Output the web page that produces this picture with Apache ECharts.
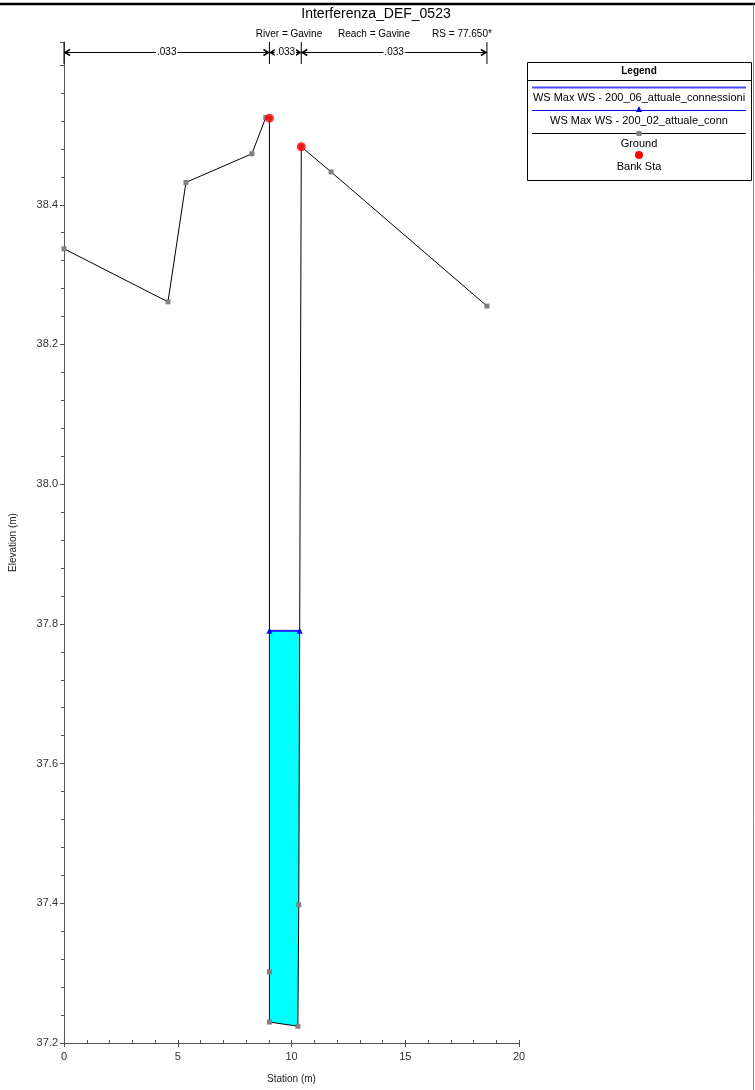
<!DOCTYPE html>
<html><head><meta charset="utf-8">
<script src="https://cdn.jsdelivr.net/npm/echarts@6/dist/echarts.min.js"></script>
<style>html,body{margin:0;padding:0;background:#fff}#c{width:755px;height:1090px}</style>
</head><body><div id="c"></div>
<script>
// ---- data ----
const groundStation = [0, 4.57, 5.36, 8.26, 8.87, 9.03, 9.03, 9.03, 10.28, 10.32, 10.43, 11.74, 18.59];
const groundElev    = [38.337, 38.261, 38.432, 38.473, 38.525, 38.524, 37.302, 37.230, 37.224, 37.398, 38.483, 38.447, 38.255];
const bankStation = [9.03, 10.43];
const bankElev    = [38.524, 38.483];
const wsStation = [9.03, 10.36];
const wsElev06  = [37.79, 37.79];
const wsElev02  = [37.79, 37.79];
const nStations = [0, 9.03, 10.43, 18.59];
const nValues   = ['.033', '.033', '.033'];
const xTickLabels = ['0', '5', '10', '15', '20'];
const yTickLabels = ['37.2', '37.4', '37.6', '37.8', '38.0', '38.2', '38.4'];
const titleText = 'Interferenza_DEF_0523';
const subtitleParts = ['River = Gavine', 'Reach = Gavine', 'RS = 77.650*'];
const legendNames = ['WS Max WS - 200_06_attuale_connessioni', 'WS Max WS - 200_02_attuale_conn', 'Ground', 'Bank Sta'];

const FONT = '"Liberation Sans", Arial, sans-serif';
const X_MIN = 0, X_MAX = 20, Y_MIN = 37.2, Y_MAX = 38.633;

const zip = (a, b) => a.map((v, i) => [v, b[i]]);
const groundData = zip(groundStation, groundElev);

const chart = echarts.init(document.getElementById('c'), null, { renderer: 'canvas' });

function waterRender(params, api) {
  const lvl = wsElev02[0];
  const pts = [api.coord([wsStation[0], lvl])];
  for (let i = 0; i < groundStation.length; i++) {
    const s = groundStation[i], e = groundElev[i];
    if (s >= wsStation[0] && s <= wsStation[1] && e < lvl) pts.push(api.coord([s, e]));
  }
  pts.push(api.coord([wsStation[1], lvl]));
  return { type: 'polygon', shape: { points: pts }, style: { fill: '#00ffff', stroke: null } };
}

function nBarRender(params, api) {
  const children = [];
  const top = api.coord([0, Y_MAX])[1];
  const yl = top + 10.5;
  const xs = nStations.map(s => api.coord([s, Y_MAX])[0]);
  xs.forEach(x => children.push({ type: 'line', shape: { x1: x, y1: top, x2: x, y2: top + 22 }, style: { stroke: '#000', lineWidth: 1 } }));
  for (let i = 0; i < nValues.length; i++) {
    const a = xs[i], b = xs[i + 1];
    children.push({ type: 'line', shape: { x1: a, y1: yl, x2: b, y2: yl }, style: { stroke: '#000', lineWidth: 1 } });
    children.push({ type: 'polyline', shape: { points: [[a + 6, yl - 3], [a + 1, yl], [a + 6, yl + 3]] }, style: { stroke: '#000', lineWidth: 1.5, fill: null } });
    children.push({ type: 'polyline', shape: { points: [[b - 6, yl - 3], [b - 1, yl], [b - 6, yl + 3]] }, style: { stroke: '#000', lineWidth: 1.5, fill: null } });
    children.push({ type: 'text', x: (a + b) / 2, y: yl, style: { text: nValues[i], font: '10px ' + FONT, fill: '#000', align: 'center', verticalAlign: 'middle', backgroundColor: '#fff', padding: [0, 1] } });
  }
  return { type: 'group', children };
}

const LF = '11px ' + FONT;
const legendGraphic = [];
const LX = 527, LY = 62, LW = 224, LH = 118, LC = LX + LW / 2;
legendGraphic.push({ type: 'rect', shape: { x: LX + 0.5, y: LY + 0.5, width: LW, height: LH }, style: { fill: '#fff', stroke: '#000', lineWidth: 1 }, z: 100 });
legendGraphic.push({ type: 'text', x: LC, y: 71, style: { text: 'Legend', font: 'bold 10px ' + FONT, fill: '#000', align: 'center', verticalAlign: 'middle' }, z: 101 });
legendGraphic.push({ type: 'line', shape: { x1: LX, y1: 80.5, x2: LX + LW, y2: 80.5 }, style: { stroke: '#000', lineWidth: 1 }, z: 101 });
legendGraphic.push({ type: 'line', shape: { x1: 532, y1: 87.5, x2: 746, y2: 87.5 }, style: { stroke: '#4a4aff', lineWidth: 2 }, z: 101 });
legendGraphic.push({ type: 'text', x: LC, y: 98, style: { text: legendNames[0], font: LF, fill: '#000', align: 'center', verticalAlign: 'middle' }, z: 101 });
legendGraphic.push({ type: 'line', shape: { x1: 532, y1: 110.5, x2: 746, y2: 110.5 }, style: { stroke: '#0000ff', lineWidth: 1 }, z: 101 });
legendGraphic.push({ type: 'polygon', shape: { points: [[LC - 3, 112], [LC + 3, 112], [LC, 106]] }, style: { fill: '#0000ff' }, z: 102 });
legendGraphic.push({ type: 'text', x: LC, y: 121, style: { text: legendNames[1], font: LF, fill: '#000', align: 'center', verticalAlign: 'middle' }, z: 101 });
legendGraphic.push({ type: 'line', shape: { x1: 532, y1: 133.5, x2: 746, y2: 133.5 }, style: { stroke: '#000', lineWidth: 1 }, z: 101 });
legendGraphic.push({ type: 'rect', shape: { x: LC - 2.5, y: 131, width: 5, height: 5 }, style: { fill: '#808080' }, z: 102 });
legendGraphic.push({ type: 'text', x: LC, y: 144, style: { text: legendNames[2], font: LF, fill: '#000', align: 'center', verticalAlign: 'middle' }, z: 101 });
legendGraphic.push({ type: 'circle', shape: { cx: LC, cy: 155, r: 4 }, style: { fill: '#ff0000' }, z: 102 });
legendGraphic.push({ type: 'text', x: LC, y: 167, style: { text: legendNames[3], font: LF, fill: '#000', align: 'center', verticalAlign: 'middle' }, z: 101 });

const frameGraphic = [
  { type: 'line', shape: { x1: 0, y1: 4, x2: 755, y2: 4 }, style: { stroke: '#000', lineWidth: 2.5 }, z: 100 },
  { type: 'line', shape: { x1: 753.5, y1: 4, x2: 753.5, y2: 1090 }, style: { stroke: '#888', lineWidth: 1 }, z: 100 },
  { type: 'text', x: 376, y: 14, style: { text: titleText, font: '14px ' + FONT, fill: '#000', align: 'center', verticalAlign: 'middle' }, z: 100 },
  { type: 'text', x: 289, y: 34, style: { text: subtitleParts[0], font: '10px ' + FONT, fill: '#000', align: 'center', verticalAlign: 'middle' }, z: 100 },
  { type: 'text', x: 374, y: 34, style: { text: subtitleParts[1], font: '10px ' + FONT, fill: '#000', align: 'center', verticalAlign: 'middle' }, z: 100 },
  { type: 'text', x: 462, y: 34, style: { text: subtitleParts[2], font: '10px ' + FONT, fill: '#000', align: 'center', verticalAlign: 'middle' }, z: 100 }
];

const axisColor = '#555';
chart.setOption({
  animation: false,
  backgroundColor: '#fff',
  textStyle: { fontFamily: FONT },
  grid: { left: 64, right: 236, top: 42, bottom: 47 },
  xAxis: [{
    type: 'value', min: X_MIN, max: X_MAX, interval: 5,
    name: 'Station (m)', nameLocation: 'middle', nameGap: 31,
    nameTextStyle: { fontSize: 10, color: '#222', fontFamily: FONT },
    axisLine: { show: true, onZero: false, lineStyle: { color: axisColor, width: 1 } },
    axisTick: { show: true, length: 4, lineStyle: { color: axisColor } },
    axisLabel: { fontSize: 11, color: '#333', margin: 8, fontFamily: FONT,
      formatter: v => { const s = String(Math.round(v * 10) / 10); return xTickLabels.includes(s) ? s : ''; } },
    splitLine: { show: false }
  }, {
    type: 'value', min: X_MIN, max: X_MAX, interval: 1, position: 'bottom',
    axisLine: { show: false }, axisLabel: { show: false },
    axisTick: { show: true, inside: true, length: 3, lineStyle: { color: axisColor } },
    splitLine: { show: false }
  }],
  yAxis: {
    type: 'value', min: Y_MIN, max: Y_MAX, interval: 0.2,
    name: 'Elevation (m)', nameLocation: 'middle', nameGap: 46, nameRotate: 90,
    nameTextStyle: { fontSize: 10, color: '#222', fontFamily: FONT },
    axisLine: { show: true, onZero: false, lineStyle: { color: axisColor, width: 1 } },
    axisTick: { show: true, length: 4, lineStyle: { color: axisColor } },
    minorTick: { show: true, splitNumber: 5, length: 3, lineStyle: { color: axisColor } },
    axisLabel: { fontSize: 11, color: '#333', margin: 6, fontFamily: FONT, showMaxLabel: false,
      formatter: v => { const s = (Math.round(v * 10) / 10).toFixed(1); return yTickLabels.includes(s) ? s : ''; } },
    splitLine: { show: false }
  },
  graphic: frameGraphic.concat(legendGraphic),
  series: [
    { type: 'custom', name: 'water', renderItem: waterRender, data: [[wsStation[0], wsElev02[0]]], z: 1, silent: true, clip: false },
    { type: 'line', name: legendNames[2], data: groundData, z: 3, symbol: 'rect', symbolSize: 5,
      itemStyle: { color: '#808080' }, lineStyle: { color: '#000', width: 1 }, showAllSymbol: true },
    { type: 'line', name: legendNames[0], data: zip(wsStation, wsElev06), z: 4, symbol: 'none',
      lineStyle: { color: '#4a4aff', width: 2 } },
    { type: 'line', name: legendNames[1], data: zip(wsStation, wsElev02), z: 5, symbol: 'triangle', symbolSize: 6,
      itemStyle: { color: '#0000ff' }, lineStyle: { color: '#0000ff', width: 1 } },
    { type: 'scatter', name: legendNames[3], data: zip(bankStation, bankElev), z: 6, symbol: 'circle', symbolSize: 9,
      itemStyle: { color: '#ff0000' } },
    { type: 'custom', name: 'nbars', renderItem: nBarRender, data: [[0, Y_MAX]], z: 7, silent: true, clip: false }
  ]
});
</script>
</body></html>
